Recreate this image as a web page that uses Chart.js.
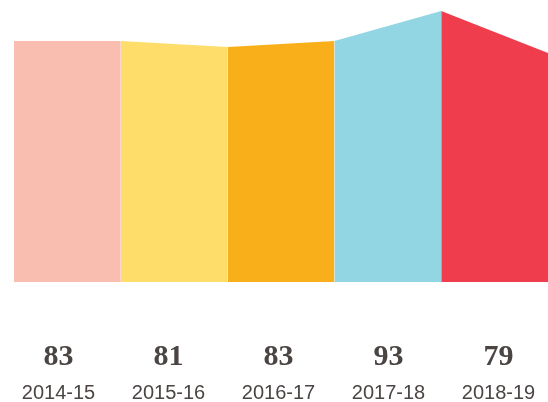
<!DOCTYPE html>
<html>
<head>
<meta charset="utf-8">
<script src="https://cdn.jsdelivr.net/npm/chart.js@4"></script>
<style>
  html, body { margin: 0; padding: 0; background: #fff; }
  #wrap { width: 548px; height: 402px; }
</style>
</head>
<body>
<div id="wrap"><canvas id="chart" width="548" height="402"></canvas></div>
<script>
// Datos del gráfico
const years = ['2014-15', '2015-16', '2016-17', '2017-18', '2018-19'];
const values = [83, 81, 83, 93, 79];
const colors = ['#FABEB1', '#FEDD6A', '#F9AF1A', '#92D6E3', '#EF3D4E'];

const textColor = '#4A4543';

// Cada año es un tramo: empieza en el valor anterior y termina en el suyo
const datasets = years.map((y, i) => ({
    label: y,
    data: [
        { x: i, y: i === 0 ? values[0] : values[i - 1] },
        { x: i + 1, y: values[i] }
    ],
    backgroundColor: colors[i],
    borderWidth: 0,
    pointRadius: 0,
    tension: 0,
    fill: 'start'
}));

// Eje auxiliar para las etiquetas (valor y año)
const labelAxis = (weight, font, padding, height, fmt) => ({
    type: 'linear',
    position: 'bottom',
    weight: weight,
    min: -0.4045,
    max: 4.45,
    grid: { display: false, drawTicks: false },
    border: { display: false },
    afterBuildTicks: (s) => { s.ticks = years.map((_, i) => ({ value: i })); },
    afterFit: (s) => {
        s.height = height;
        // sin margen extra a los lados
        s.paddingLeft = 0;
        s.paddingRight = 0;
    },
    ticks: {
        autoSkip: false,
        maxRotation: 0,
        padding: padding,
        color: textColor,
        font: font,
        callback: fmt
    }
});

new Chart(document.getElementById('chart'), {
    type: 'line',
    data: { datasets },
    options: {
        responsive: false,
        animation: false,
        layout: { padding: { left: 14, right: 0, top: 0, bottom: 0 } },
        plugins: { legend: { display: false }, tooltip: { enabled: false } },
        scales: {
            x: { type: 'linear', min: 0, max: 5, display: false },
            y: { min: 2.6, max: 96.7, display: false },
            xVal: labelAxis(1, { family: '"Liberation Serif", serif', size: 30, weight: 'bold' }, 57, 88,
                (v) => values[v]),
            xYear: labelAxis(2, { family: '"Liberation Sans", Arial, sans-serif', size: 20 }, 11, 32,
                (v) => years[v])
        }
    }
});
</script>
</body>
</html>
